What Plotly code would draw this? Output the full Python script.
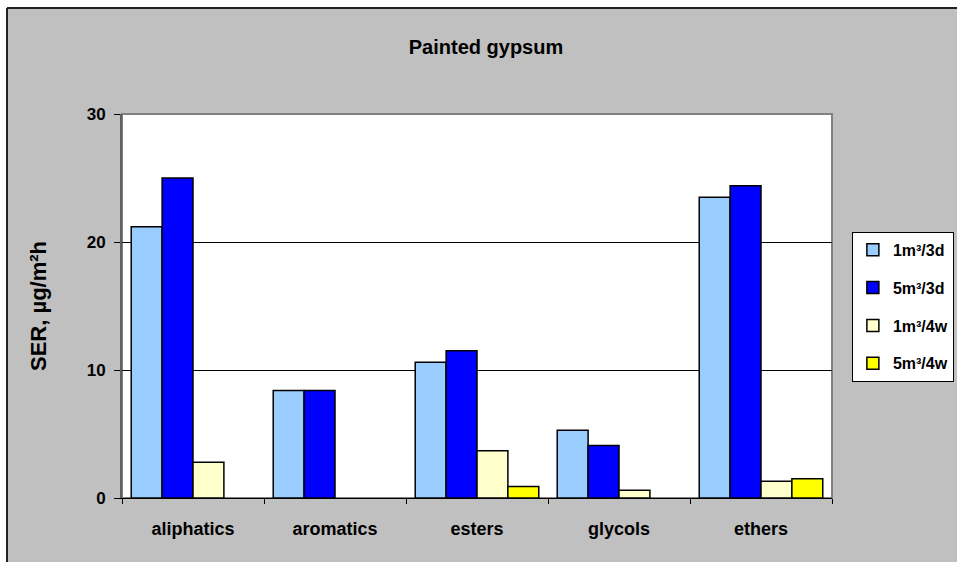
import plotly.graph_objects as go

categories = ['aliphatics', 'aromatics', 'esters', 'glycols', 'ethers']
series_names = ['1m\u00b3/3d', '5m\u00b3/3d', '1m\u00b3/4w', '5m\u00b3/4w']
v_1m_3d = [21.2, 8.4, 10.6, 5.3, 23.5]
v_5m_3d = [25.0, 8.4, 11.5, 4.1, 24.4]
v_1m_4w = [2.8, None, 3.7, 0.6, 1.3]
v_5m_4w = [None, None, 0.9, None, 1.5]
colors = ['#99CCFF', '#0000FF', '#FFFFCC', '#FFFF00']

FONT = 'Liberation Sans, Arial, sans-serif'
W, H = 957, 562
L, R, T, B = 122, 125, 114, 64
pw, ph = W - L - R, H - T - B

fig = go.Figure()
for i, (name, vals) in enumerate(zip(series_names, [v_1m_3d, v_5m_3d, v_1m_4w, v_5m_4w])):
    fig.add_trace(go.Bar(
        x=categories, y=vals, name=name, legendgroup=str(i),
        marker=dict(color=colors[i], line=dict(color='black', width=1.5)),
    ))

# white strips at top/left, dark chart border, white plot area
px = lambda v: (v - L) / pw
py = lambda v: (H - B - v) / ph
fig.add_shape(type='rect', xref='paper', yref='paper', layer='below',
              x0=px(0), x1=px(7), y0=py(H), y1=py(0),
              fillcolor='white', line_width=0)
fig.add_shape(type='rect', xref='paper', yref='paper', layer='below',
              x0=px(0), x1=px(W), y0=py(8), y1=py(0),
              fillcolor='white', line_width=0)
fig.add_shape(type='line', xref='paper', yref='paper', layer='below',
              x0=px(7), x1=px(7), y0=py(H), y1=py(8),
              line=dict(color='#222222', width=2))
fig.add_shape(type='line', xref='paper', yref='paper', layer='below',
              x0=px(7), x1=px(W), y0=py(8), y1=py(8),
              line=dict(color='#222222', width=2))
fig.add_shape(type='rect', xref='paper', yref='paper', layer='below',
              x0=0, x1=1, y0=0, y1=1,
              fillcolor='white', line=dict(color='#808080', width=2))

fig.update_layout(
    width=W, height=H,
    margin=dict(l=L, r=R, t=T, b=B, autoexpand=False),
    paper_bgcolor='#C0C0C0', plot_bgcolor='rgba(0,0,0,0)',
    barmode='group', bargap=0.13, bargroupgap=0,
    font=dict(family=FONT, color='black'),
    title=dict(text='Painted gypsum', x=486 / W, xanchor='center',
               y=1 - 47 / H, yanchor='middle',
               font=dict(size=20, weight='bold', family=FONT)),
    legend=dict(x=1.028, y=0.693, xanchor='left', yanchor='top',
                bgcolor='white', bordercolor='black', borderwidth=1,
                font=dict(size=16, weight='bold', family=FONT),
                tracegroupgap=14, traceorder='grouped'),
    showlegend=True,
)
fig.update_xaxes(
    tickfont=dict(size=18, weight='bold', family=FONT),
    showline=True, linecolor='black', linewidth=1,
    ticks='outside', tickson='boundaries', ticklen=5, tickcolor='black',
    ticklabelstandoff=14,
    showgrid=False,
)
fig.update_yaxes(
    range=[0, 30], dtick=10,
    tickfont=dict(size=17, weight='bold', family=FONT),
    showline=True, linecolor='#606060', linewidth=2,
    ticks='outside', ticklen=6, tickcolor='black',
    ticklabelstandoff=5,
    showgrid=True, gridcolor='black', gridwidth=1, zeroline=False,
    title=dict(text='SER, \u00b5g/m\u00b2h', standoff=34,
               font=dict(size=22, weight='bold', family=FONT)),
)

fig.write_html('out.html', config={'displayModeBar': False},
               post_script="document.body.style.margin='0';"
                           "document.body.style.overflow='hidden';"
                           "document.documentElement.style.overflow='hidden';")
